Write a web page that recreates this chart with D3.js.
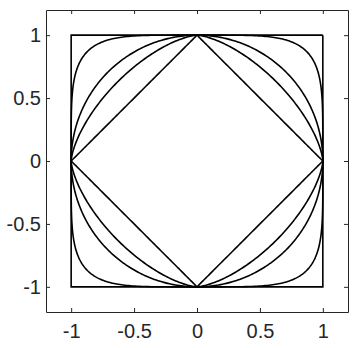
<!DOCTYPE html>
<html>
<head>
<meta charset="utf-8">
<script src="https://cdn.jsdelivr.net/npm/d3@7"></script>
<style>
  body { margin: 0; background: #fff; }
  text { font-family: "Liberation Sans", Arial, sans-serif; fill: #262626; }
</style>
</head>
<body>
<div id="chart"></div>
<script>
// exponents p of the curves |x|^p + |y|^p = 1 (Infinity = square)
const exponents = [1, 1.5, 2, 5, Infinity];
const tickValues = [-1, -0.5, 0, 0.5, 1];
const tickLabels = ["-1", "-0.5", "0", "0.5", "1"];
const domain = [-1.2, 1.2];

const width = 354, height = 348;
const padL = 46, padR = 348, padT = 10, padB = 312;

const svg = d3.select("#chart").append("svg")
  .attr("width", width).attr("height", height);

const x = d3.scaleLinear().domain(domain).range([padL, padR]);
const y = d3.scaleLinear().domain(domain).range([padB, padT]);

// sample one curve by angle
function curvePoints(p) {
  if (p === Infinity) return [[1, 1], [-1, 1], [-1, -1], [1, -1], [1, 1]];
  const pts = [];
  const n = 400;
  for (let i = 0; i <= n; i++) {
    const t = 2 * Math.PI * i / n;
    const c = Math.cos(t), s = Math.sin(t);
    pts.push([Math.sign(c) * Math.pow(Math.abs(c), 2 / p),
              Math.sign(s) * Math.pow(Math.abs(s), 2 / p)]);
  }
  return pts;
}

const line = d3.line().x(d => x(d[0])).y(d => y(d[1]));

svg.append("g").selectAll("path").data(exponents).enter()
  .append("path")
  .attr("d", p => line(curvePoints(p)))
  .attr("fill", "none")
  .attr("stroke", "#000")
  .attr("stroke-width", 1.6)
  .attr("stroke-linejoin", "miter");

// axes (box with inward ticks on all four sides)
const fmt = d => tickLabels[tickValues.indexOf(d)];

const xAxis = svg.append("g")
  .attr("transform", "translate(0," + padB + ")")
  .call(d3.axisBottom(x).tickValues(tickValues).tickFormat(fmt).tickSizeInner(-4).tickSizeOuter(0).tickPadding(12));
const yAxis = svg.append("g")
  .attr("transform", "translate(" + padL + ",0)")
  .call(d3.axisLeft(y).tickValues(tickValues).tickFormat(fmt).tickSizeInner(-4).tickSizeOuter(0).tickPadding(5));
const xTop = svg.append("g")
  .attr("transform", "translate(0," + padT + ")")
  .call(d3.axisTop(x).tickValues(tickValues).tickFormat("").tickSizeInner(-4).tickSizeOuter(0));
const yRight = svg.append("g")
  .attr("transform", "translate(" + padR + ",0)")
  .call(d3.axisRight(y).tickValues(tickValues).tickFormat("").tickSizeInner(-4).tickSizeOuter(0));

[xAxis, yAxis, xTop, yRight].forEach(g => {
  g.selectAll("path,line").attr("stroke", "#262626");
  g.selectAll("text").attr("font-size", 20).attr("fill", "#262626")
    .style("font-family", "'Liberation Sans', Arial, sans-serif");
});
</script>
</body>
</html>
